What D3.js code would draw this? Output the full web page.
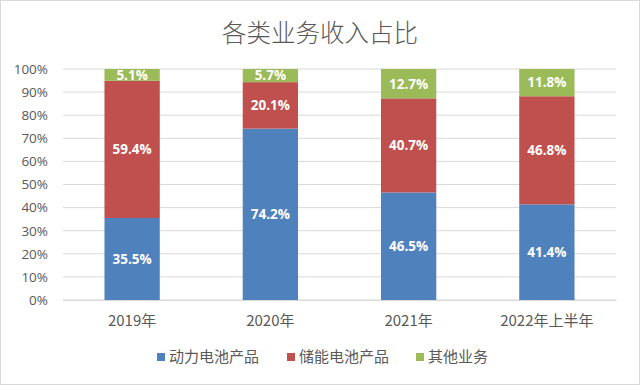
<!DOCTYPE html>
<html>
<head>
<meta charset="utf-8">
<script src="https://cdn.jsdelivr.net/npm/d3@7"></script>
<style>
  body { margin: 0; background: #fff; }
  svg { display: block; }
</style>
</head>
<body>
<div id="chart"></div>
<script>
// data
var years = ["2019年", "2020年", "2021年", "2022年上半年"];
var power = [35.5, 74.2, 46.5, 41.4];   // 动力电池产品
var storage = [59.4, 20.1, 40.7, 46.8]; // 储能电池产品
var other = [5.1, 5.7, 12.7, 11.8];     // 其他业务
var seriesNames = ["动力电池产品", "储能电池产品", "其他业务"];
var yTicks = [0, 0.1, 0.2, 0.3, 0.4, 0.5, 0.6, 0.7, 0.8, 0.9, 1];

var width = 640, height = 385;
var margin = { top: 69, right: 24, bottom: 85, left: 63 };

var rows = years.map(function (y, i) {
    return { year: y, "动力电池产品": power[i], "储能电池产品": storage[i], "其他业务": other[i] };
});

var color = d3.scaleOrdinal().domain(seriesNames).range(["#4f81bd", "#c0504d", "#9bbb59"]);

var svg = d3.select('#chart').append('svg')
    .attr('width', width)
    .attr('height', height);

// outer frame
svg.append('rect')
    .attr('x', 0.5).attr('y', 0.5)
    .attr('width', width - 1).attr('height', height - 1)
    .attr('fill', '#fff')
    .attr('stroke', '#d9d9d9');

var x = d3.scaleBand().domain(years)
    .range([margin.left, width - margin.right])
    .paddingInner(0.6).paddingOuter(0.3);
var y = d3.scaleLinear().domain([0, 1]).range([height - margin.bottom, margin.top]);

// gridlines
svg.append('g').selectAll('line')
    .data(yTicks)
    .enter().append('line')
    .attr('x1', margin.left).attr('x2', width - margin.right)
    .attr('y1', function (d) { return y(d); })
    .attr('y2', function (d) { return y(d); })
    .attr('stroke', '#d9d9d9')
    .attr('stroke-width', 1);

// y axis labels
var yAxis = d3.axisLeft(y).tickValues(yTicks).tickFormat(d3.format('.0%')).tickSize(0).tickPadding(15);
var gy = svg.append('g').attr('transform', 'translate(' + margin.left + ',0)').call(yAxis);
gy.select('.domain').remove();
gy.selectAll('text')
    .attr('fill', '#595959')
    .style('font-family', '"Open Sans", "Liberation Sans", sans-serif')
    .style('font-size', '13.5px');

// stacked bars (100%)
var stack = d3.stack().keys(seriesNames).offset(d3.stackOffsetExpand);
var layers = stack(rows);

var groups = svg.append('g').selectAll('g')
    .data(layers)
    .enter().append('g')
    .attr('fill', function (d) { return color(d.key); });

groups.selectAll('rect')
    .data(function (d) { return d; })
    .enter().append('rect')
    .attr('x', function (d) { return x(d.data.year); })
    .attr('width', x.bandwidth())
    .attr('y', function (d) { return y(d[1]); })
    .attr('height', function (d) { return y(d[0]) - y(d[1]); });

// data labels
groups.each(function (layer) {
    d3.select(this).selectAll('text')
        .data(layer)
        .enter().append('text')
        .attr('x', function (d) { return x(d.data.year) + x.bandwidth() / 2; })
        .attr('y', function (d) { return (y(d[0]) + y(d[1])) / 2; })
        .attr('dy', '0.36em')
        .attr('text-anchor', 'middle')
        .attr('fill', '#fff')
        .style('font-family', '"Open Sans", "Liberation Sans", sans-serif')
        .style('font-weight', 'bold')
        .style('font-size', '13.5px')
        .text(function (d) { return d.data[layer.key].toFixed(1) + '%'; });
});

// x axis
var xAxis = d3.axisBottom(x).tickSize(0).tickPadding(15);
var gx = svg.append('g').attr('transform', 'translate(0,' + y(0) + ')').call(xAxis);
gx.select('.domain').attr('stroke', '#d9d9d9');
gx.selectAll('text')
    .attr('fill', '#595959')
    .style('font-family', '"Noto Sans CJK SC", sans-serif')
    .style('font-size', '15px');

// title
svg.append('text')
    .attr('x', width / 2)
    .attr('y', 42)
    .attr('text-anchor', 'middle')
    .attr('fill', '#595959')
    .style('font-family', '"Noto Sans CJK SC", sans-serif')
    .style('font-weight', 300)
    .style('font-size', '24.5px')
    .text('各类业务收入占比');

// legend
var legendX = [157, 287, 416];
var legend = svg.selectAll('.legend')
    .data(seriesNames)
    .enter().append('g')
    .attr('class', 'legend')
    .attr('transform', function (d, i) { return 'translate(' + legendX[i] + ',357)'; });

legend.append('rect')
    .attr('x', 0).attr('y', -4)
    .attr('width', 8).attr('height', 8)
    .attr('fill', color);

legend.append('text')
    .attr('x', 12)
    .attr('dy', '0.36em')
    .attr('fill', '#595959')
    .style('font-family', '"Noto Sans CJK SC", sans-serif')
    .style('font-size', '15px')
    .text(function (d) { return d; });
</script>
</body>
</html>
